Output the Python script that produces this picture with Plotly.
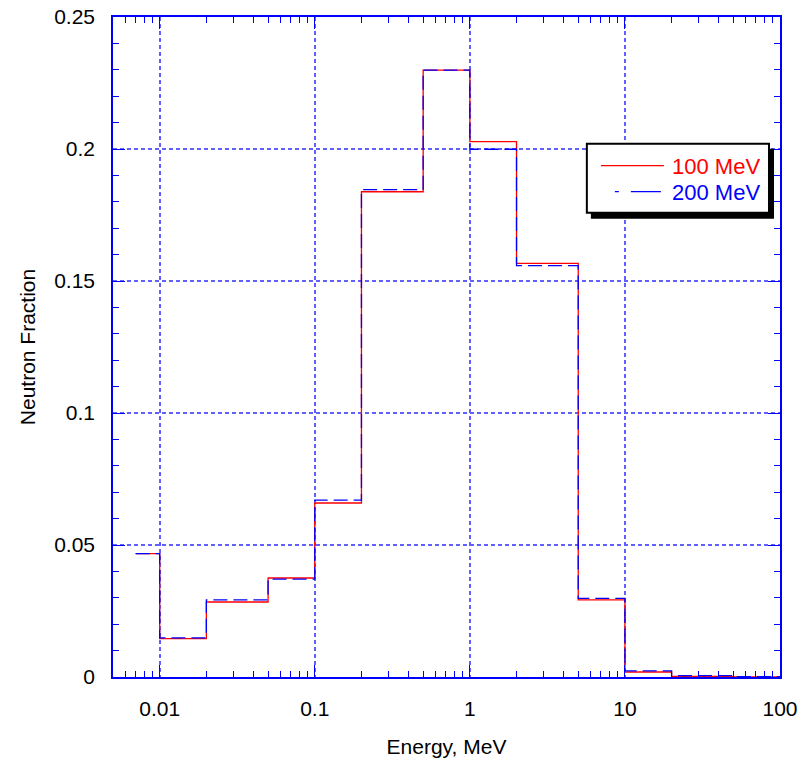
import math
import plotly.graph_objects as go

# ---- data ----
bin_edges = [0.007, 0.01, 0.02, 0.05, 0.1, 0.2, 0.5, 1, 2, 5, 10, 20, 50, 100]
frac_100mev = [0.0467, 0.0145, 0.0284, 0.0375, 0.0659, 0.1838, 0.2299, 0.2028,
               0.1567, 0.0292, 0.0019, 0.0002, 0.0]
frac_200mev = [0.0467, 0.0148, 0.0292, 0.0371, 0.0670, 0.1846, 0.2299, 0.1999,
               0.1558, 0.0298, 0.0023, 0.0005, 0.0001]
series_names = ["100 MeV", "200 MeV"]
x_tick_vals = [0.01, 0.1, 1, 10, 100]
x_tick_text = ["0.01", "0.1", "1", "10", "100"]
y_tick_vals = [0, 0.05, 0.1, 0.15, 0.2, 0.25]
y_tick_text = ["0", "0.05", "0.1", "0.15", "0.2", "0.25"]

FONT = "Liberation Sans, Arial, sans-serif"
BLUE = "#0000ff"
RED = "#ff0000"
GRID = "#6060ff"
GRID_DASH = "4px,3px"
BLUE_DASH = "14px,6px"

fig = go.Figure()
fig.add_trace(go.Scatter(x=bin_edges, y=frac_100mev + [frac_100mev[-1]],
                         mode="lines", line=dict(color=RED, width=1.3, shape="hv"),
                         name=series_names[0], showlegend=False))
fig.add_trace(go.Scatter(x=bin_edges, y=frac_200mev + [frac_200mev[-1]],
                         mode="lines", line=dict(color=BLUE, width=1.3, shape="hv", dash=BLUE_DASH),
                         name=series_names[1], showlegend=False))

minor_x = []
for d in range(-3, 2):
    for m in range(2, 10):
        v = m * 10 ** d
        if 0.005 <= v <= 100:
            minor_x.append(v)

fig.update_xaxes(type="log", range=[math.log10(0.005), 2],
                 tickmode="array", tickvals=x_tick_vals, ticktext=x_tick_text,
                 ticks="inside", ticklen=12, tickwidth=1, tickcolor=BLUE,
                 showline=True, linecolor=BLUE, linewidth=1.5, mirror="ticks",
                 showgrid=True, gridcolor=GRID, gridwidth=1.5, griddash=GRID_DASH,
                 zeroline=False,
                 minor=dict(tickmode="array", tickvals=minor_x, ticks="inside",
                            ticklen=6, tickcolor=BLUE, showgrid=False),
                 tickfont=dict(family=FONT, size=21, color="black"),
                 ticklabelstandoff=12,
                 title=dict(text="Energy, MeV", font=dict(family=FONT, size=21, color="black"),
                            standoff=20))
fig.update_yaxes(range=[0, 0.25], tickmode="array", tickvals=y_tick_vals, ticktext=y_tick_text,
                 ticks="inside", ticklen=12, tickwidth=1, tickcolor=BLUE,
                 showline=True, linecolor=BLUE, linewidth=1.5, mirror="ticks",
                 showgrid=True, gridcolor=GRID, gridwidth=1.5, griddash=GRID_DASH,
                 zeroline=False,
                 minor=dict(dtick=0.01, tick0=0, ticks="inside", ticklen=6,
                            tickcolor=BLUE, showgrid=False),
                 tickfont=dict(family=FONT, size=21, color="black"),
                 ticklabelstandoff=12,
                 title=dict(text="Neutron Fraction", font=dict(family=FONT, size=21, color="black"),
                            standoff=13))

# ---- manual legend with drop shadow (paper coordinates) ----
def px(x):
    return (x - 113.5) / 666.5

def py(y):
    return (677.3 - y) / 660.0

shapes = [
    dict(type="rect", xref="paper", yref="paper", x0=px(591), x1=px(774), y0=py(219), y1=py(149),
         fillcolor="black", line=dict(width=0), layer="above"),
    dict(type="rect", xref="paper", yref="paper", x0=px(587), x1=px(769), y0=py(213), y1=py(144),
         fillcolor="white", line=dict(color="black", width=2), layer="above"),
    dict(type="line", xref="paper", yref="paper", x0=px(601), x1=px(664), y0=py(166), y1=py(166),
         line=dict(color=RED, width=1.3), layer="above"),
    dict(type="line", xref="paper", yref="paper", x0=px(615), x1=px(662), y0=py(192), y1=py(192),
         line=dict(color=BLUE, width=1.3, dash="4px,12px,30px,12px"), layer="above"),
]
annotations = [
    dict(xref="paper", yref="paper", x=px(670), y=py(167), text=series_names[0],
         showarrow=False, xanchor="left", yanchor="middle",
         font=dict(family=FONT, size=22, color=RED)),
    dict(xref="paper", yref="paper", x=px(670), y=py(193), text=series_names[1],
         showarrow=False, xanchor="left", yanchor="middle",
         font=dict(family=FONT, size=22, color=BLUE)),
]

fig.update_layout(width=812, height=761, autosize=False,
                  margin=dict(l=113, r=32, t=17, b=84, autoexpand=False),
                  paper_bgcolor="white", plot_bgcolor="white",
                  shapes=shapes, annotations=annotations, showlegend=False,
                  font=dict(family=FONT))

fig.write_html("out.html")
